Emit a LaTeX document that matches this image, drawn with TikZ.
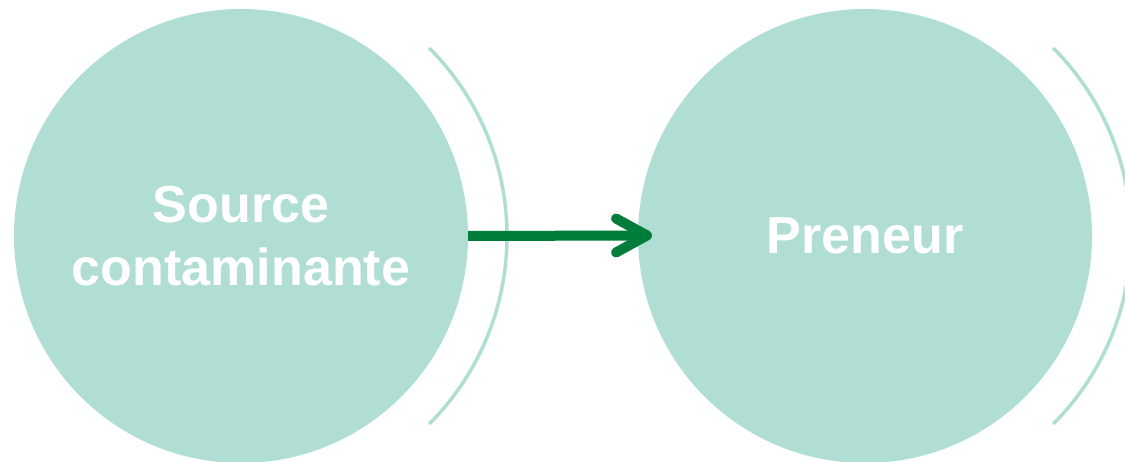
\documentclass[tikz,border=0pt]{standalone}
\usepackage{fontspec}
\setmainfont{Liberation Sans}
\definecolor{mint}{RGB}{176,222,212}
\definecolor{arrowgreen}{RGB}{0,125,58}
\tikzset{
  bubble/.style={circle, fill=mint, draw=none, minimum size=454pt, inner sep=0pt,
    text=white, font=\bfseries\fontsize{52}{63}\selectfont, align=center},
  halo/.style={draw=mint, line width=3.5pt},
  flow/.style={draw=arrowgreen, line width=10pt},
  flowhead/.style={draw=arrowgreen, line width=10pt, line cap=round, line join=round}
}
\begin{document}
\begin{tikzpicture}[x=1pt, y=1pt]
\useasboundingbox (0,0) rectangle (1125,462);
\node[bubble] (src) at (241,226) {Source\\contaminante};
\node[bubble] (pre) at (865,226) {Preneur};
\draw[halo] (241,226) ++(-45:266) arc[start angle=-45, end angle=45, radius=266];
\draw[halo] (865,226) ++(-45:266) arc[start angle=-45, end angle=45, radius=266];
\coordinate (tip) at (647,226.5);
\draw[flow] (src.east) -- (tip);
\draw[flowhead] ([shift={(-31pt,17pt)}]tip) -- (tip) -- ([shift={(-31pt,-17pt)}]tip);
\end{tikzpicture}
\end{document}
